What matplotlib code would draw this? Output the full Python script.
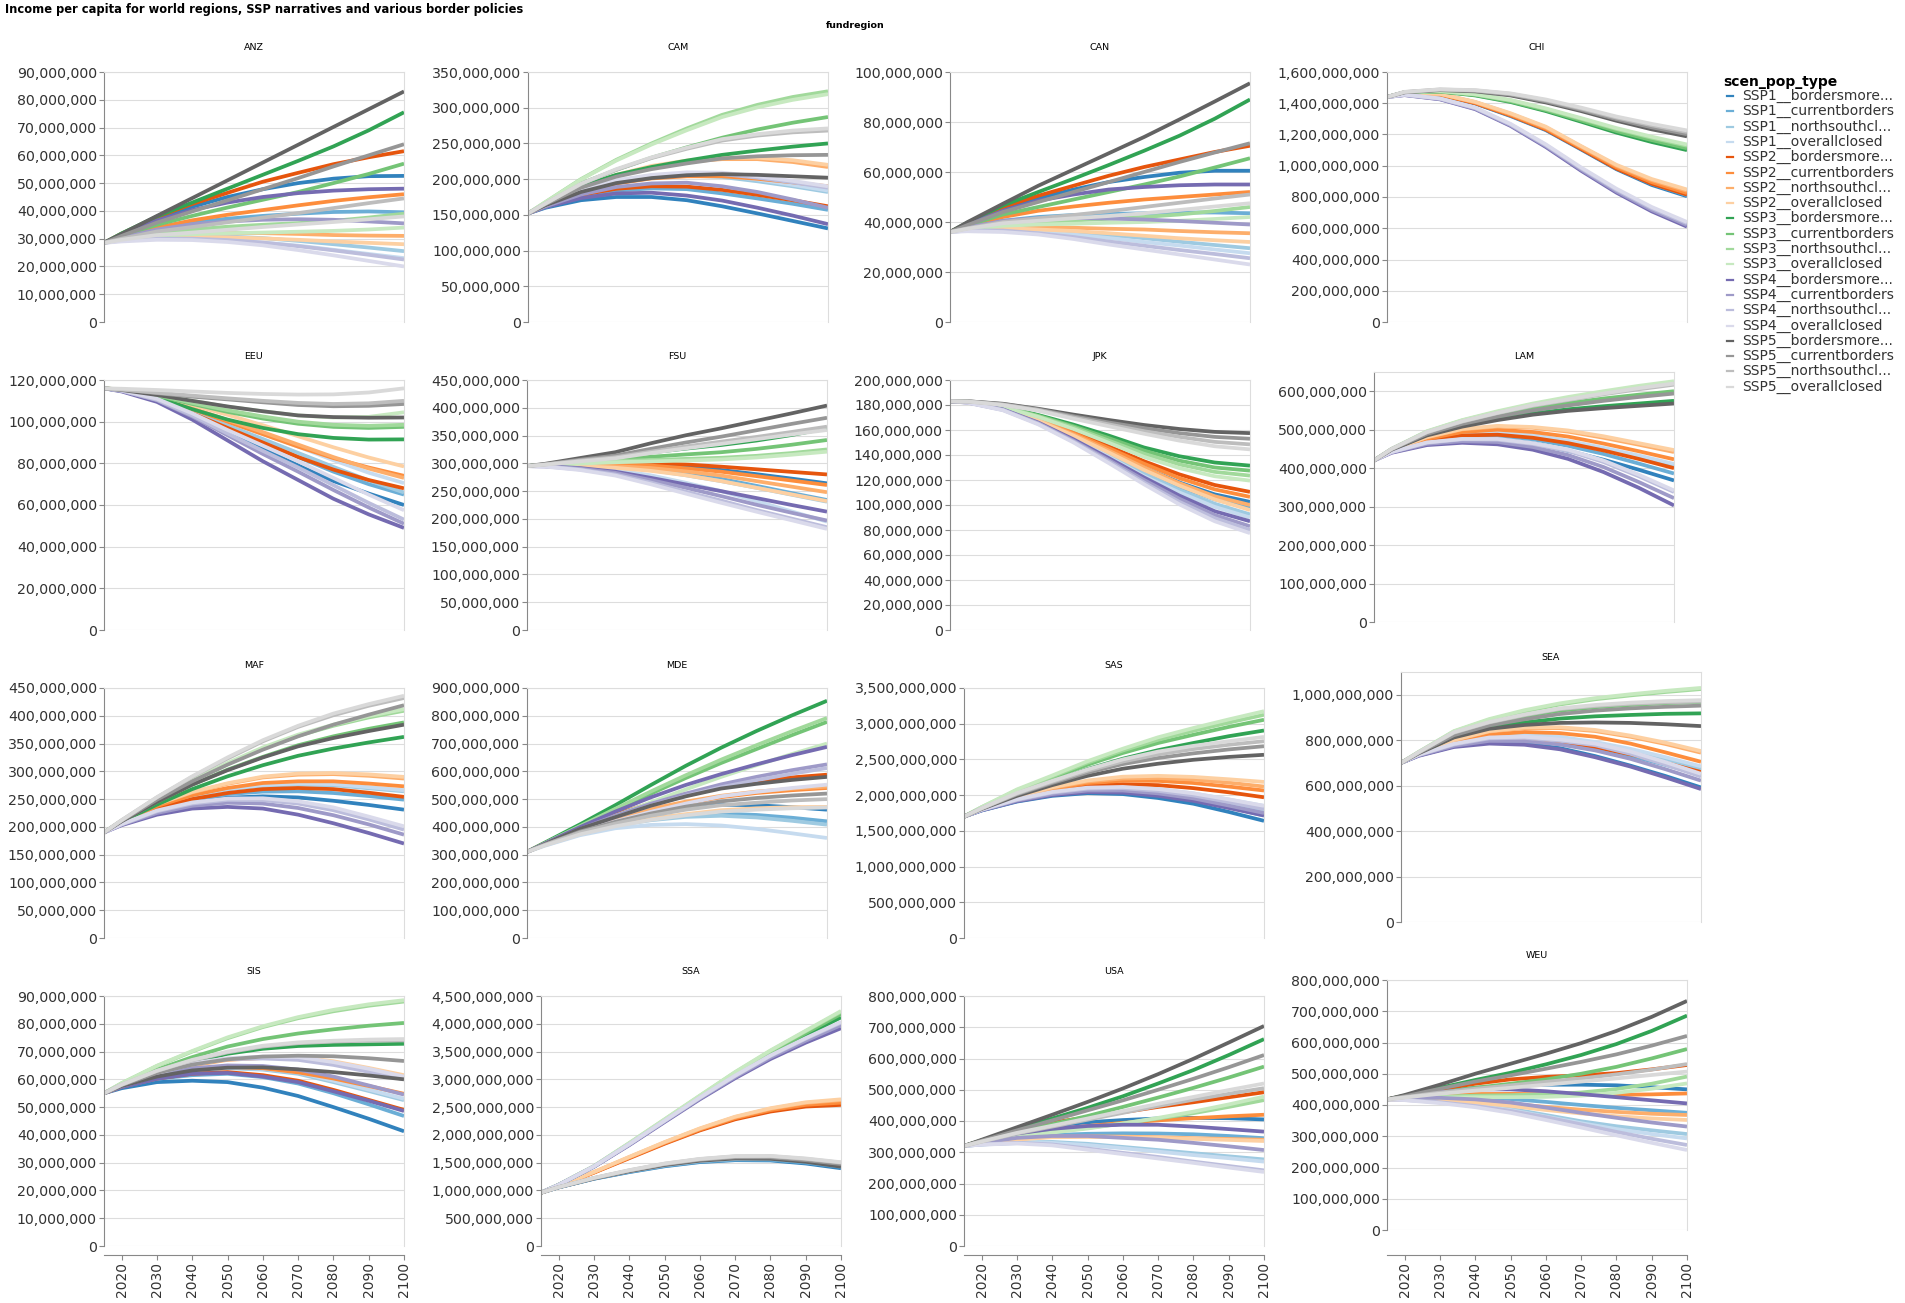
import matplotlib
matplotlib.use("Agg")
import matplotlib.pyplot as plt
from matplotlib.lines import Line2D
from matplotlib.ticker import FuncFormatter, MultipleLocator

W, H = 1906, 1303

years = [2015, 2020, 2030, 2040, 2050, 2060, 2070, 2080, 2090, 2100]

legend_labels = [
    "SSP1__bordersmore...", "SSP1__currentborders", "SSP1__northsouthcl...", "SSP1__overallclosed",
    "SSP2__bordersmore...", "SSP2__currentborders", "SSP2__northsouthcl...", "SSP2__overallclosed",
    "SSP3__bordersmore...", "SSP3__currentborders", "SSP3__northsouthcl...", "SSP3__overallclosed",
    "SSP4__bordersmore...", "SSP4__currentborders", "SSP4__northsouthcl...", "SSP4__overallclosed",
    "SSP5__bordersmore...", "SSP5__currentborders", "SSP5__northsouthcl...", "SSP5__overallclosed",
]
colors = [
    "#3182bd", "#6baed6", "#9ecae1", "#c6dbef",
    "#e6550d", "#fd8d3c", "#fdae6b", "#fdd0a2",
    "#31a354", "#74c476", "#a1d99b", "#c7e9c0",
    "#756bb1", "#9e9ac8", "#bcbddc", "#dadaeb",
    "#636363", "#969696", "#bdbdbd", "#d9d9d9",
]

# income per capita in millions, one row per scenario (legend order)
ANZ = [
    [28.5, 31.5, 37, 41.5, 45, 47.8, 50, 51.6, 52.5, 52.6],
    [28.5, 30.3, 33.5, 35.8, 37.2, 38.2, 39, 39.6, 39.8, 39.5],
    [28.5, 29.7, 30.8, 31, 30.8, 30.2, 29.2, 28, 26.8, 25.5],
    [28.5, 29.4, 30.1, 30, 29.5, 28.6, 27.5, 26, 24.5, 23],
    [28.5, 31.8, 37.8, 42.5, 46.5, 50.5, 53.7, 56.8, 59.3, 61.5],
    [28.5, 30.6, 34, 36.6, 38.6, 40.3, 42, 43.6, 44.9, 46],
    [28.5, 29.9, 31.4, 32, 32.1, 32, 31.7, 31.3, 31.1, 31],
    [28.5, 29.6, 30.6, 30.7, 30.5, 30.1, 29.6, 29, 28.5, 28],
    [28.5, 31.9, 38, 43, 48, 53, 58, 63.2, 69, 75.5],
    [28.5, 31, 35, 38.2, 41.2, 44, 46.8, 50, 53.3, 57],
    [28.5, 29.9, 32, 33.3, 34.3, 35, 35.6, 36.4, 37.6, 39],
    [28.5, 29.6, 31, 31.6, 32, 32.2, 32.5, 32.8, 33.3, 34],
    [28.5, 31.5, 36.5, 40.3, 43, 45, 46.4, 47.3, 47.8, 48],
    [28.5, 30.3, 33.3, 35.2, 36.2, 36.8, 37, 36.8, 36.2, 35.5],
    [28.5, 29.3, 30, 30, 29.5, 28.6, 27.3, 25.8, 24.2, 22.5],
    [28.5, 29, 29.6, 29.5, 28.8, 27.6, 25.9, 24, 22, 20],
    [28.5, 31.7, 38.2, 44.6, 51, 57.4, 63.8, 70.2, 76.6, 83],
    [28.5, 31, 35.8, 39.8, 43.8, 47.8, 51.8, 56, 60, 64],
    [28.5, 30, 32.6, 34.2, 35.9, 37.6, 39.2, 41, 42.8, 44.5],
    [28.5, 29.6, 31.3, 32.2, 33.2, 34.2, 35.1, 36, 37, 38],
]
CAM = [
    [152, 160, 170.5, 175, 175, 170.5, 162, 152, 141.5, 131],
    [152, 161, 176, 184, 187, 186, 180, 173, 165.5, 157],
    [152, 163, 182, 195, 202.5, 205, 203, 197, 190, 182],
    [152, 163, 183, 196, 203.5, 206.5, 205, 199.5, 192, 184],
    [152, 162, 178, 186.5, 190, 189.5, 185, 178, 170.5, 162],
    [152, 163, 182, 194, 201, 204, 204, 200.5, 195.5, 190],
    [152, 165, 188, 205, 217, 224.5, 228, 228, 224, 217],
    [152, 165, 188.5, 206, 218.5, 226, 230, 230, 226.5, 220],
    [152, 165, 190, 206, 217, 226, 234, 240, 245.5, 250],
    [152, 166, 194, 213, 230, 244.5, 258, 269.5, 279, 287],
    [152, 168, 200, 227, 250, 271, 290, 304, 315, 323],
    [152, 168, 199.5, 226, 248.5, 268.5, 287, 300.5, 311, 319],
    [152, 161, 173.5, 180, 181, 177, 170, 160, 149, 137],
    [152, 162, 178.5, 189, 194, 195, 190, 182, 171.5, 160],
    [152, 163.5, 184, 197.5, 205, 208, 207, 202, 195.5, 188],
    [152, 163.5, 184.5, 198.5, 206, 209.5, 209, 204, 197.5, 190],
    [152, 163.5, 182, 194.5, 201.5, 205.5, 207, 206, 204, 202],
    [152, 165, 188, 203.5, 214, 222, 229, 232, 233.5, 234],
    [152, 166, 193, 213, 229.5, 242.5, 254, 261, 265.5, 268],
    [152, 166, 193.5, 214, 230.5, 244, 256, 263, 268, 271],
]
CAN = [
    [36, 39.3, 45.5, 49.5, 53, 56, 58, 59.7, 60.5, 60.5],
    [36, 37.8, 40.5, 42, 42.8, 43.2, 43.5, 43.8, 43.8, 43.5],
    [36, 36.9, 37.5, 37, 36, 34.8, 33.5, 32.1, 30.8, 29.5],
    [36, 36.6, 37, 36, 35, 33.6, 32, 30.6, 29, 27.5],
    [36, 39.6, 46, 50.5, 54.5, 58.5, 62, 65, 68, 70.5],
    [36, 38.3, 42, 44.5, 46.2, 47.7, 49, 50, 51, 52],
    [36, 37.1, 38.2, 38, 37.7, 37.3, 37, 36.4, 35.9, 35.5],
    [36, 36.8, 37.6, 37, 36.4, 35.5, 34.5, 33.5, 32.7, 32],
    [36, 39.8, 46.6, 52, 57.3, 62.8, 68.5, 74.5, 81.3, 89],
    [36, 38.6, 43, 46, 49, 52, 55, 58.2, 61.8, 65.5],
    [36, 37.3, 39.2, 40, 40.6, 41.3, 42, 43, 44.4, 46],
    [36, 37, 38.5, 39, 39.3, 39.7, 40, 40.5, 41.2, 42],
    [36, 39, 44.5, 48.5, 51, 53, 54, 54.7, 55, 55],
    [36, 37.8, 40.5, 41.5, 41.6, 41.4, 41, 40.4, 39.7, 39],
    [36, 36.6, 36.6, 35.5, 34, 32.2, 30.5, 28.8, 27.2, 25.5],
    [36, 36.3, 36, 35, 33.2, 31, 29, 27, 25, 23],
    [36, 40, 47.3, 54.5, 61, 67.5, 74, 81, 88.2, 95.5],
    [36, 38.8, 44, 48, 52, 56, 60, 64, 67.8, 71.5],
    [36, 37.5, 40, 41.5, 42.8, 44.3, 46, 47.7, 49.4, 51],
    [36, 37.3, 39.5, 40.5, 41.5, 42.4, 43.5, 44.8, 46.2, 47.5],
]
CHI = [
    [1440, 1461, 1453, 1398, 1318, 1228, 1104, 978, 877, 805],
    [1440, 1462, 1455, 1401, 1322, 1233, 1110, 985, 885, 812],
    [1440, 1463, 1457, 1405, 1329, 1241, 1118, 995, 898, 825],
    [1440, 1464, 1458, 1407, 1333, 1246, 1122, 1001, 905, 832],
    [1440, 1462, 1455, 1400, 1322, 1232, 1108, 982, 885, 815],
    [1440, 1463, 1457, 1403, 1326, 1237, 1114, 990, 895, 825],
    [1440, 1464, 1459, 1407, 1332, 1245, 1122, 1000, 908, 840],
    [1440, 1465, 1460, 1409, 1336, 1250, 1126, 1006, 915, 848],
    [1440, 1468, 1475, 1450, 1408, 1350, 1282, 1212, 1152, 1100],
    [1440, 1469, 1476, 1453, 1412, 1356, 1290, 1222, 1164, 1112],
    [1440, 1470, 1477, 1456, 1418, 1363, 1300, 1235, 1179, 1128],
    [1440, 1471, 1478, 1458, 1421, 1367, 1305, 1241, 1186, 1136],
    [1440, 1452, 1425, 1362, 1255, 1120, 968, 828, 708, 610],
    [1440, 1453, 1427, 1365, 1259, 1126, 975, 836, 717, 620],
    [1440, 1454, 1429, 1369, 1264, 1132, 983, 846, 728, 632],
    [1440, 1455, 1431, 1372, 1268, 1137, 989, 853, 736, 640],
    [1440, 1470, 1484, 1476, 1450, 1405, 1350, 1288, 1233, 1188],
    [1440, 1471, 1486, 1479, 1455, 1412, 1358, 1298, 1246, 1202],
    [1440, 1472, 1488, 1482, 1460, 1419, 1366, 1308, 1259, 1216],
    [1440, 1473, 1489, 1484, 1463, 1424, 1372, 1315, 1268, 1226],
]
EEU = [
    [116, 114.8, 110.5, 103, 95, 87, 79, 71.5, 65.5, 60],
    [116, 115, 111, 104.5, 97, 90, 83, 76, 70, 65],
    [116, 115, 111.2, 105, 98.3, 91.7, 85, 78.3, 71.8, 66],
    [116, 115.2, 111.8, 106, 100, 94, 88, 81.5, 75.5, 70.5],
    [116, 115, 111, 104, 97, 90, 83, 77, 72, 68],
    [116, 115.2, 111.8, 106, 100, 94, 88, 82.5, 78, 74],
    [116, 115.2, 112, 106.5, 100.8, 95, 89, 83, 77.5, 73],
    [116, 115.4, 112.8, 108, 103.3, 98.3, 93, 87.7, 82.8, 78.5],
    [116, 115, 111.5, 106, 101, 97, 94, 92.2, 91.4, 91.5],
    [116, 115.3, 112.5, 108.5, 104.7, 101.5, 99, 97.5, 97, 97.5],
    [116, 115.3, 112.8, 109, 105.5, 102.5, 100, 98.5, 98, 98.5],
    [116, 115.5, 113.3, 110, 107.2, 105, 103, 102, 102.3, 104.5],
    [116, 114.5, 109.5, 101, 91, 81, 72, 63, 55.5, 49],
    [116, 114.8, 110.3, 102.5, 93.5, 84.5, 76, 67.2, 58.8, 51],
    [116, 114.8, 110.5, 103, 94.3, 86, 78, 69.5, 61, 53],
    [116, 115, 111, 104, 96, 88.5, 81, 73, 65, 57.5],
    [116, 115.2, 112.8, 110, 107.3, 105, 103, 102.2, 101.9, 102],
    [116, 115.4, 113.7, 112, 110.7, 109.3, 108, 107.4, 107.6, 108.5],
    [116, 115.4, 113.9, 112.5, 111.2, 110, 109, 108.5, 108.8, 110],
    [116, 115.8, 115.2, 114.5, 113.8, 113.3, 113, 113.1, 114, 116],
]
FSU = [
    [295, 296.8, 299, 300, 298.5, 295, 288, 280.5, 272.5, 264],
    [295, 296.2, 297, 296, 291, 282, 272, 259.5, 246.5, 234],
    [295, 295.7, 295.5, 293, 288, 278.5, 268, 256, 243.5, 231],
    [295, 295.3, 293.5, 288, 278.5, 265, 250, 232, 213.5, 195],
    [295, 296.8, 299.5, 301, 300.8, 298, 294, 289.3, 284.6, 280],
    [295, 296.2, 297.5, 298, 296, 291, 285, 277, 269, 261],
    [295, 295.7, 296, 295, 291.5, 285.5, 278, 268, 258, 248],
    [295, 295.6, 295, 292, 286.5, 278.5, 268, 256, 244, 232],
    [295, 297.5, 304.5, 312, 319.5, 326.5, 333, 341, 351, 363],
    [295, 297.3, 302.5, 307, 311.8, 316, 320, 326, 333.5, 342],
    [295, 297, 300.8, 304, 306, 308, 310, 313.5, 318.5, 325],
    [295, 296.5, 299.5, 302, 303.5, 305, 307, 310.5, 315.5, 321],
    [295, 294.8, 291.5, 285, 274, 262, 250, 237.5, 225, 213],
    [295, 294.7, 290.5, 283, 270, 256, 241, 225.5, 211, 197],
    [295, 294.5, 289, 280, 265.5, 249, 233, 216, 200.5, 185],
    [295, 294.2, 288, 278, 262.5, 245.5, 229, 213, 197.5, 182],
    [295, 299, 309.5, 320, 336, 350.5, 363, 376.5, 390, 404],
    [295, 298.3, 306.5, 314, 326, 337.5, 348, 359.5, 371, 382],
    [295, 297.8, 305, 311, 321, 330.5, 339, 347.5, 356.5, 366],
    [295, 297.5, 303.5, 309, 318.5, 327, 335, 343.5, 352, 360],
]
JPK = [
    [183, 182.3, 177.5, 168, 156.5, 143.5, 130, 118, 108.5, 102.5],
    [183, 182.3, 177.3, 167.5, 155.5, 141.5, 127, 114.5, 104.5, 97.5],
    [183, 182.2, 177, 167, 154.5, 140, 125, 112, 101, 92.5],
    [183, 182.2, 176.8, 166.5, 153.5, 138.5, 123, 110, 98.5, 90],
    [183, 182.5, 178, 169, 158.8, 147, 135, 124.5, 116, 110.5],
    [183, 182.5, 177.8, 168.5, 157.5, 145.5, 133, 121.5, 112.5, 106.5],
    [183, 182.3, 177.5, 168, 156.5, 143.5, 130, 117.5, 107, 100],
    [183, 182.3, 177.3, 167.5, 155.5, 142, 128, 115.5, 104.5, 96],
    [183, 182.7, 179, 172, 164.3, 155.5, 146, 139, 134, 131.5],
    [183, 182.7, 178.8, 171.5, 163, 153.5, 143.5, 135.5, 130, 127.5],
    [183, 182.5, 178.5, 171, 162, 151.5, 141, 132.5, 126.5, 123.5],
    [183, 182.5, 178.2, 170.5, 160.8, 149.8, 138.5, 129.5, 123, 119.5],
    [183, 182, 176.5, 166, 152.5, 137.5, 122, 107.5, 95, 87],
    [183, 182, 176.3, 165.5, 151.5, 136, 120, 105, 92, 83],
    [183, 181.8, 176, 165, 150.8, 134.8, 118, 102.5, 89.5, 80],
    [183, 181.8, 175.8, 164.5, 150, 133.5, 116.5, 100.5, 87, 77.5],
    [183, 183, 181, 177, 172.3, 168, 164, 160.8, 158.5, 157.5],
    [183, 183, 180.7, 176.5, 171, 166, 161.5, 157.5, 154.5, 153],
    [183, 182.8, 180.3, 176, 170, 164.5, 159, 154.5, 150.5, 148.5],
    [183, 182.8, 180, 175.5, 169, 163, 157, 151.5, 147, 144.5],
]
LAM = [
    [420, 443, 466, 478, 476, 465, 445, 422, 396, 368],
    [420, 444, 470, 484, 485, 475, 458, 437, 412, 386],
    [420, 445, 472, 487, 491, 484, 468, 449, 428, 406],
    [420, 445, 473, 488, 493, 486, 471, 453, 433, 411],
    [420, 445, 471, 485, 487, 479, 465, 446, 424, 400],
    [420, 446, 476, 494, 500, 494, 482, 464, 444, 423],
    [420, 447, 480, 501, 508, 505, 495, 479, 461, 442],
    [420, 447, 481, 502, 510, 507, 498, 483, 465, 447],
    [420, 448, 487, 512, 529, 542, 553, 561, 568, 575],
    [420, 449, 491, 518, 538, 555, 569, 581, 591, 600],
    [420, 450, 495, 524, 546, 566, 582, 597, 610, 622],
    [420, 450, 496, 525, 548, 568, 585, 600, 614, 626],
    [420, 440, 460, 466, 462, 448, 424, 390, 349, 303],
    [420, 441, 463, 470, 468, 455, 434, 403, 364, 322],
    [420, 442, 466, 475, 474, 463, 445, 416, 379, 338],
    [420, 442, 467, 476, 476, 465, 448, 420, 383, 342],
    [420, 448, 485, 508, 525, 539, 549, 556, 562, 568],
    [420, 449, 489, 515, 534, 550, 563, 575, 585, 594],
    [420, 450, 493, 521, 543, 562, 577, 592, 605, 617],
    [420, 450, 494, 522, 544, 564, 579, 594, 608, 620],
]
MAF = [
    [190, 206, 230, 245, 252.5, 255, 253, 247, 239.5, 231],
    [190, 207, 233, 250, 259, 263.5, 264, 261, 255.5, 249],
    [190, 208, 237, 256, 267.5, 274, 276, 275, 269.5, 264],
    [190, 208, 237.5, 257, 268.5, 275.5, 278, 277, 271.5, 266],
    [190, 207, 233.5, 250, 261, 268, 270, 268, 261.5, 254],
    [190, 208, 237.5, 257, 270, 279, 282, 282, 278, 273],
    [190, 209, 240.5, 262, 277.5, 289, 294, 295, 292, 287],
    [190, 209, 241, 263, 278.5, 290.5, 296, 297, 294.5, 290],
    [190, 209, 240, 268, 291, 311, 328, 341, 352, 362],
    [190, 210, 245, 276, 303, 326, 347, 363, 376.5, 388],
    [190, 211, 249, 283, 313, 341, 364, 382, 397, 409],
    [190, 211, 249.5, 284, 315, 343, 366, 384, 399.5, 412],
    [190, 203, 222, 233, 236, 233, 222, 206.5, 189, 170],
    [190, 204, 225, 238, 243.5, 242, 234, 221, 204.5, 186],
    [190, 204.5, 228, 242, 248.5, 248, 242, 230, 213.5, 195],
    [190, 205, 229.5, 244, 251, 251.5, 246, 235, 218.5, 201],
    [190, 210, 245, 276, 302, 325, 345, 360, 372.5, 384],
    [190, 211, 249, 282, 312, 339, 363, 384, 402, 419],
    [190, 212, 253, 290, 323, 354, 380, 401, 418, 432],
    [190, 212, 253.5, 291, 325, 356, 382, 404, 421, 436],
]
MDE = [
    [310, 338, 389, 425, 452, 470, 480, 478, 471, 462],
    [310, 336, 381, 410, 430, 443, 448, 443, 433, 420],
    [310, 335, 378, 405, 424, 436, 440, 434, 422, 408],
    [310, 332, 370, 395, 407, 410, 405, 393, 377, 360],
    [310, 342, 401, 445, 485, 518, 545, 565, 578, 588],
    [310, 339, 392, 428, 460, 485, 507, 522, 532, 540],
    [310, 340, 395, 432, 465, 491, 512, 527, 537, 545],
    [310, 335, 376, 408, 429, 446, 460, 467, 471, 472],
    [310, 343, 409, 478, 550, 620, 685, 745, 801, 854],
    [310, 340, 401, 460, 519, 576, 630, 680, 730, 778],
    [310, 341, 403, 465, 527, 586, 642, 694, 744, 792],
    [310, 336, 388, 440, 488, 535, 580, 622, 662, 700],
    [310, 340, 399, 455, 506, 551, 590, 625, 658, 688],
    [310, 338, 392, 440, 483, 520, 553, 580, 604, 625],
    [310, 337, 389, 435, 476, 512, 543, 568, 591, 612],
    [310, 335, 381, 420, 454, 484, 510, 526, 540, 552],
    [310, 338, 393, 435, 476, 510, 538, 555, 569, 580],
    [310, 336, 383, 418, 448, 473, 492, 504, 513, 520],
    [310, 335, 380, 412, 440, 462, 478, 487, 495, 500],
    [310, 333, 373, 402, 425, 442, 455, 462, 467, 470],
]
SAS = [
    [1700, 1785, 1910, 1990, 2028, 2015, 1960, 1880, 1765, 1640],
    [1700, 1790, 1920, 2010, 2055, 2055, 2010, 1935, 1830, 1715],
    [1700, 1795, 1935, 2035, 2090, 2097, 2060, 1990, 1900, 1795],
    [1700, 1797, 1942, 2045, 2105, 2115, 2085, 2025, 1940, 1850],
    [1700, 1797, 1950, 2060, 2130, 2153, 2140, 2098, 2040, 1970],
    [1700, 1802, 1965, 2085, 2168, 2202, 2200, 2170, 2120, 2065],
    [1700, 1805, 1975, 2100, 2190, 2233, 2240, 2218, 2175, 2120],
    [1700, 1807, 1982, 2110, 2205, 2258, 2270, 2255, 2222, 2185],
    [1700, 1820, 2030, 2200, 2365, 2510, 2630, 2730, 2825, 2905],
    [1700, 1828, 2060, 2240, 2425, 2590, 2730, 2845, 2955, 3055],
    [1700, 1830, 2070, 2260, 2455, 2625, 2775, 2900, 3015, 3125],
    [1700, 1833, 2080, 2275, 2475, 2650, 2810, 2940, 3060, 3175],
    [1700, 1787, 1915, 2000, 2042, 2035, 1990, 1920, 1820, 1715],
    [1700, 1790, 1925, 2015, 2065, 2065, 2025, 1955, 1855, 1750],
    [1700, 1795, 1935, 2035, 2090, 2097, 2060, 1995, 1905, 1805],
    [1700, 1797, 1942, 2045, 2105, 2115, 2085, 2025, 1940, 1850],
    [1700, 1807, 1990, 2140, 2270, 2370, 2440, 2495, 2535, 2565],
    [1700, 1812, 2010, 2170, 2315, 2435, 2520, 2585, 2640, 2685],
    [1700, 1815, 2020, 2185, 2340, 2470, 2570, 2645, 2705, 2755],
    [1700, 1817, 2030, 2200, 2360, 2500, 2610, 2690, 2755, 2815],
]
SEA = [
    [700, 733, 773, 790, 785, 765, 730, 688, 642, 592],
    [700, 735, 779, 805, 806, 792, 765, 731, 691, 648],
    [700, 737, 784, 815, 821, 810, 785, 753, 714, 672],
    [700, 737, 786, 818, 825, 815, 792, 762, 725, 685],
    [700, 735, 778, 802, 805, 795, 770, 738, 700, 660],
    [700, 739, 792, 825, 836, 831, 815, 785, 746, 705],
    [700, 741, 800, 838, 853, 853, 840, 815, 783, 745],
    [700, 741, 801, 840, 856, 857, 845, 820, 789, 752],
    [700, 742, 815, 855, 878, 895, 905, 911, 916, 918],
    [700, 745, 828, 875, 905, 930, 945, 955, 963, 968],
    [700, 748, 838, 890, 927, 957, 980, 997, 1012, 1025],
    [700, 748, 840, 893, 932, 962, 985, 1002, 1017, 1030],
    [700, 731, 770, 785, 780, 760, 725, 684, 636, 585],
    [700, 733, 775, 797, 796, 781, 755, 718, 672, 622],
    [700, 735, 781, 808, 810, 797, 778, 740, 692, 640],
    [700, 736, 784, 812, 815, 803, 785, 750, 703, 652],
    [700, 742, 812, 850, 867, 876, 878, 876, 870, 862],
    [700, 744, 822, 865, 892, 915, 930, 940, 947, 952],
    [700, 746, 833, 878, 910, 937, 950, 960, 966, 970],
    [700, 747, 835, 880, 913, 940, 955, 965, 972, 976],
]
SIS = [
    [55, 56.8, 59, 59.5, 59, 57, 54, 50, 45.8, 41.3],
    [55, 57.3, 60.2, 61.5, 62, 60.8, 58.5, 55, 51, 46.8],
    [55, 57.5, 61.3, 63, 64, 63.5, 62, 59, 55.8, 52.5],
    [55, 57.5, 61.4, 63.2, 64.2, 63.8, 62.5, 59.5, 56.3, 53],
    [55, 57.3, 60.3, 62, 62.6, 61.5, 59.5, 56.2, 52.6, 49],
    [55, 57.5, 61.2, 63.5, 64.5, 64, 62.5, 60.3, 57.6, 54.8],
    [55, 57.8, 61.8, 65, 67, 67.7, 67.5, 66, 63.6, 61],
    [55, 57.8, 61.9, 65.2, 67.3, 68, 68, 66.5, 64.1, 61.5],
    [55, 58, 62.5, 66.3, 69.2, 71, 72, 72.4, 72.6, 72.8],
    [55, 58.3, 63.5, 68, 71.8, 74.5, 76.5, 78, 79.3, 80.3],
    [55, 58.6, 64.8, 70, 74.8, 78.8, 82, 84.5, 86.5, 88],
    [55, 58.6, 64.9, 70.2, 75.1, 79.1, 82.4, 85, 87, 88.5],
    [55, 57.2, 60.2, 62, 62.3, 61, 59, 55.7, 52.3, 48.6],
    [55, 57.5, 61.3, 64, 65, 64.8, 63.5, 61, 57.8, 54.5],
    [55, 57.8, 62, 65.5, 67.2, 67.5, 67, 65.2, 62.7, 60],
    [55, 57.8, 62.2, 65.8, 67.6, 68.2, 68, 66.2, 63.8, 61],
    [55, 57.6, 61, 63.2, 64.2, 64.3, 63.6, 62.6, 61.4, 60],
    [55, 57.9, 62.3, 65.3, 67.2, 68.2, 68.5, 68.3, 67.6, 66.6],
    [55, 58.1, 63, 66.8, 69.7, 71.8, 73, 73.6, 73.9, 74],
    [55, 58.1, 63.1, 67, 70, 72.1, 73.3, 73.9, 74.3, 74.5],
]
SSA = [
    [960, 1055, 1210, 1330, 1435, 1510, 1545, 1540, 1485, 1400],
    [960, 1056, 1213, 1335, 1442, 1518, 1555, 1553, 1502, 1425],
    [960, 1057, 1217, 1345, 1454, 1530, 1570, 1570, 1525, 1450],
    [960, 1058, 1218, 1348, 1458, 1535, 1578, 1578, 1534, 1460],
    [960, 1070, 1320, 1580, 1840, 2080, 2280, 2420, 2510, 2540],
    [960, 1071, 1325, 1590, 1852, 2095, 2300, 2445, 2540, 2580],
    [960, 1072, 1330, 1600, 1865, 2110, 2320, 2470, 2575, 2625],
    [960, 1073, 1332, 1604, 1870, 2117, 2328, 2480, 2587, 2640],
    [960, 1100, 1430, 1830, 2250, 2670, 3080, 3450, 3790, 4115],
    [960, 1101, 1433, 1840, 2262, 2687, 3100, 3480, 3830, 4175],
    [960, 1102, 1437, 1850, 2275, 2702, 3125, 3510, 3865, 4215],
    [960, 1102, 1438, 1853, 2280, 2707, 3132, 3520, 3875, 4230],
    [960, 1098, 1425, 1815, 2230, 2640, 3020, 3365, 3660, 3920],
    [960, 1099, 1428, 1822, 2240, 2653, 3040, 3392, 3695, 3975],
    [960, 1100, 1432, 1830, 2250, 2667, 3060, 3420, 3730, 4020],
    [960, 1100, 1433, 1833, 2254, 2672, 3068, 3430, 3742, 4035],
    [960, 1057, 1215, 1345, 1457, 1535, 1575, 1570, 1516, 1428],
    [960, 1058, 1220, 1355, 1470, 1551, 1595, 1595, 1545, 1475],
    [960, 1059, 1224, 1362, 1480, 1563, 1612, 1615, 1568, 1500],
    [960, 1060, 1226, 1365, 1484, 1568, 1618, 1622, 1576, 1508],
]
USA = [
    [320, 335, 362, 385, 396, 403, 408, 410, 409, 405],
    [320, 329, 345, 355, 359, 360.5, 360, 357.5, 352, 345],
    [320, 325, 331, 333, 327, 317, 307, 297, 287, 277],
    [320, 324.5, 329, 330, 323, 313, 302, 291, 281, 270],
    [320, 337, 370, 395, 412, 428, 445, 460, 476, 492],
    [320, 332, 356, 372, 384, 394, 402, 409, 415, 420],
    [320, 329, 342, 350, 351, 350, 348, 345, 342.5, 340],
    [320, 328.5, 341, 348, 349, 348, 346, 343, 339.5, 336],
    [320, 338, 374, 408, 442, 479, 520, 563, 611, 662],
    [320, 335, 363, 390, 416, 445, 475, 506, 539, 574],
    [320, 331, 350, 365, 378, 392, 408, 425, 445, 467],
    [320, 330.5, 349, 363, 376, 392, 410, 430, 453, 478],
    [320, 335, 360, 375, 384, 388, 388, 382, 374, 366],
    [320, 330, 346, 352, 352, 346, 340, 330, 319, 307],
    [320, 325, 330, 325, 312, 298, 285, 270, 256, 242],
    [320, 324.5, 328, 322, 308, 294, 280, 266, 251, 237],
    [320, 340, 380, 420, 461, 504, 550, 599, 651, 704],
    [320, 337, 370, 402, 434, 466, 500, 535, 572, 611],
    [320, 334, 360, 382, 404, 426, 448, 468, 487, 505],
    [320, 334.5, 362, 385, 408, 432, 455, 477, 499, 520],
]
WEU = [
    [418, 426, 442, 455, 462, 465, 465, 463, 457, 450],
    [418, 422, 426, 425, 419, 410, 400, 391, 383, 375],
    [418, 417, 413, 403, 388, 368, 348, 332, 319, 307],
    [418, 416.5, 411, 400, 384, 363, 342, 323, 307, 293],
    [418, 429, 450, 468, 482, 490, 495, 502, 514, 528],
    [418, 423, 431, 435, 435.5, 434.5, 433, 432.5, 434, 437],
    [418, 418.5, 417, 412, 404, 394, 385, 378, 372, 368],
    [418, 418, 415, 408, 397, 384, 373, 364, 357, 352],
    [418, 430, 455, 480, 503, 530, 560, 595, 637, 686],
    [418, 425, 440, 455, 468, 482, 500, 522, 549, 579],
    [418, 421, 427, 430, 431.5, 434, 440, 451, 468, 491],
    [418, 420, 424, 425, 425, 426, 430, 439, 452, 469],
    [418, 427, 441, 450, 450, 444, 435, 425, 415, 405],
    [418, 421.5, 423, 418, 408, 392, 375, 359, 344, 331],
    [418, 416, 409, 397, 381, 361, 338, 314, 292, 272],
    [418, 415.5, 406, 393, 375, 352, 328, 303, 279, 256],
    [418, 432, 465, 500, 532, 564, 598, 637, 682, 733],
    [418, 428, 452, 475, 495, 516, 538, 562, 590, 621],
    [418, 425, 440, 452, 463, 474, 485, 498, 513, 531],
    [418, 424, 436, 446, 455, 465, 475, 485, 496, 507],
]

regions = ["ANZ", "CAM", "CAN", "CHI", "EEU", "FSU", "JPK", "LAM",
           "MAF", "MDE", "SAS", "SEA", "SIS", "SSA", "USA", "WEU"]
region_data = {"ANZ": ANZ, "CAM": CAM, "CAN": CAN, "CHI": CHI, "EEU": EEU, "FSU": FSU,
               "JPK": JPK, "LAM": LAM, "MAF": MAF, "MDE": MDE, "SAS": SAS, "SEA": SEA,
               "SIS": SIS, "SSA": SSA, "USA": USA, "WEU": WEU}

# y axis top and tick step (millions)
ytop = {"ANZ": 90, "CAM": 350, "CAN": 100, "CHI": 1600, "EEU": 120, "FSU": 450,
        "JPK": 200, "LAM": 650, "MAF": 450, "MDE": 900, "SAS": 3500, "SEA": 1100,
        "SIS": 90, "SSA": 4500, "USA": 800, "WEU": 800}
ystep = {"ANZ": 10, "CAM": 50, "CAN": 20, "CHI": 200, "EEU": 20, "FSU": 50,
         "JPK": 20, "LAM": 100, "MAF": 50, "MDE": 100, "SAS": 500, "SEA": 200,
         "SIS": 10, "SSA": 500, "USA": 100, "WEU": 100}

# panel placement in pixels: left, top, title gap
layout = {
    "ANZ": (104, 72, 24), "CAM": (528, 72, 24), "CAN": (950, 72, 24), "CHI": (1387, 72, 24),
    "EEU": (104, 380, 23), "FSU": (527, 380, 23), "JPK": (950, 380, 23), "LAM": (1374, 372, 15),
    "MAF": (104, 688, 23), "MDE": (527, 688, 23), "SAS": (964, 688, 23), "SEA": (1401, 672, 15),
    "SIS": (104, 996, 24), "SSA": (541, 996, 24), "USA": (964, 996, 24), "WEU": (1387, 980, 24),
}
PW, PH = 300, 250
xaxis_y = 1255
PX = 0.72  # points per pixel at dpi 100

fig = plt.figure(figsize=(W / 100, H / 100), dpi=100)
fig.patch.set_facecolor("white")

fmt = FuncFormatter(lambda v, p: "{:,.0f}".format(v))

for i, reg in enumerate(regions):
    left, top, tgap = layout[reg]
    ax = fig.add_axes([left / W, 1 - (top + PH) / H, PW / W, PH / H])
    for s, vals in enumerate(region_data[reg]):
        ax.plot(years, [v * 1e6 for v in vals], color=colors[s], lw=2.7,
                solid_joinstyle="round", solid_capstyle="butt")
    ax.set_xlim(2015, 2100)
    ax.set_ylim(0, ytop[reg] * 1e6)
    ax.yaxis.set_major_locator(MultipleLocator(ystep[reg] * 1e6))
    ax.yaxis.set_major_formatter(fmt)
    ax.grid(axis="y", color="#dddddd", lw=0.8)
    ax.set_axisbelow(True)
    ax.tick_params(axis="y", length=3.6, width=0.8, color="#888888", pad=1.5,
                   labelsize=10.2, labelcolor="#333333")
    ax.spines["left"].set_color("#888888")
    ax.spines["left"].set_linewidth(0.8)
    for sp in ("top", "right"):
        ax.spines[sp].set_color("#dddddd")
        ax.spines[sp].set_linewidth(0.8)
    if i >= 12:
        ax.spines["bottom"].set_position(("outward", (xaxis_y - (top + PH)) * PX))
        ax.spines["bottom"].set_color("#888888")
        ax.spines["bottom"].set_linewidth(0.8)
        ax.set_xticks(range(2020, 2101, 10))
        ax.tick_params(axis="x", length=3.6, width=0.8, color="#888888", pad=1.5,
                       labelsize=10, labelcolor="#333333", labelrotation=90)
    else:
        ax.spines["bottom"].set_visible(False)
        ax.set_xticks([])
    fig.text((left + PW / 2) / W, 1 - (top - tgap) / H, reg, ha="center", va="center",
             fontsize=6.8, color="black")

fig.text(5 / W, 1 - 10 / H,
         "Income per capita for world regions, SSP narratives and various border policies",
         ha="left", va="center", fontsize=8.3, fontweight="bold", color="black")
fig.text(855 / W, 1 - 26 / H, "fundregion", ha="center", va="center",
         fontsize=6.8, fontweight="bold", color="black")

# legend
fig.text(1723 / W, 1 - 82 / H, "scen_pop_type", ha="left", va="center",
         fontsize=10, fontweight="bold", color="black")
for s, lab in enumerate(legend_labels):
    yc = 1 - (96 + 15.3 * s) / H
    fig.add_artist(Line2D([1727 / W, 1733 / W], [yc, yc], color=colors[s], lw=1.6,
                          transform=fig.transFigure))
    fig.text(1742 / W, yc, lab, ha="left", va="center", fontsize=10, color="#333333")

fig.savefig("out.png", dpi=100, facecolor="white")
